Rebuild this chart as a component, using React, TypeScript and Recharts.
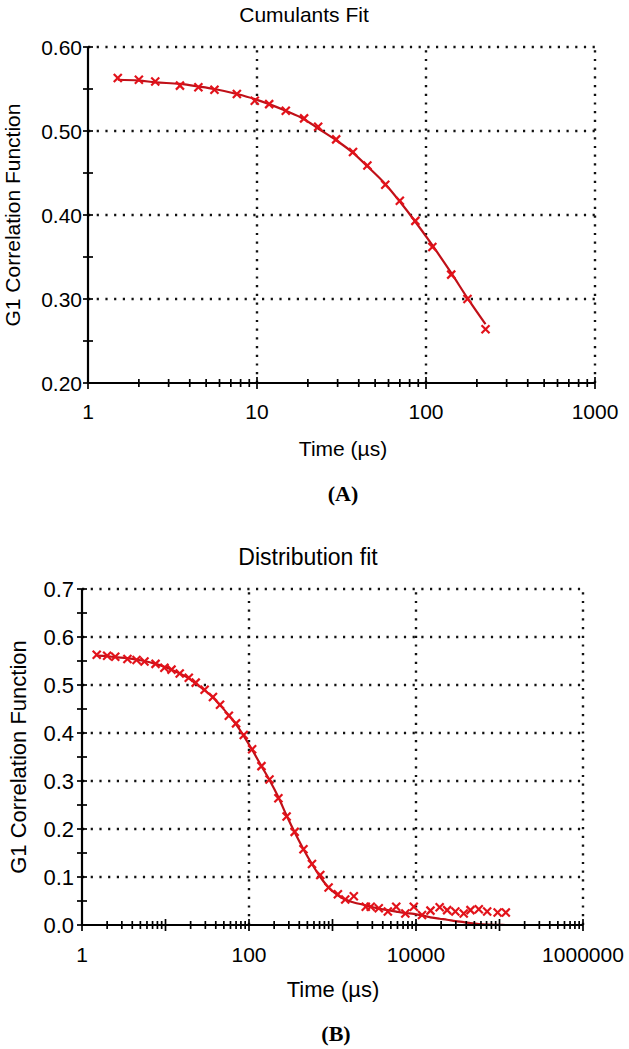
import React from 'react';
import { ComposedChart, Line, Scatter, XAxis, YAxis, ReferenceLine } from 'recharts';

// (A) cumulants fit, time in µs
const timeA = [1.5, 2.0, 2.5, 3.5, 4.5, 5.6, 7.6, 9.7, 11.8, 14.8, 19, 23, 29.4, 37, 45, 57.4, 70, 86.5, 109, 141, 176, 225];
const measuredA = [0.563, 0.561, 0.559, 0.554, 0.552, 0.549, 0.544, 0.536, 0.532, 0.524, 0.515, 0.505, 0.49, 0.475, 0.459, 0.436, 0.417, 0.393, 0.362, 0.329, 0.3, 0.264];
const fitA = [0.561, 0.56, 0.558, 0.556, 0.553, 0.55, 0.544, 0.538, 0.532, 0.524, 0.514, 0.503, 0.489, 0.474, 0.458, 0.437, 0.416, 0.392, 0.364, 0.331, 0.301, 0.27];

// (B) distribution fit
const timeB = [1.5, 2.0, 2.5, 3.5, 4.5, 5.6, 7.6, 9.7, 11.8, 14.8, 19, 23, 29.4, 37, 45, 57.4, 70, 86.5, 109, 141, 176, 225,
  282, 352, 449, 568, 714, 898, 1160, 1420, 1800, 2500, 2870, 3580, 4600, 5800, 7450, 9400, 11800, 14900, 19200, 23600, 29600, 37300, 44900, 56500, 71200, 95000, 119000];
const measuredB = [0.563, 0.561, 0.559, 0.554, 0.552, 0.549, 0.544, 0.536, 0.532, 0.524, 0.515, 0.505, 0.49, 0.475, 0.459, 0.436, 0.42, 0.396, 0.366, 0.331, 0.303, 0.264,
  0.226, 0.194, 0.158, 0.127, 0.104, 0.078, 0.064, 0.053, 0.06, 0.038, 0.038, 0.035, 0.028, 0.038, 0.024, 0.038, 0.021, 0.03, 0.037, 0.031, 0.028, 0.024, 0.031, 0.033, 0.028, 0.026, 0.026];
const fitB = [0.561, 0.56, 0.558, 0.556, 0.553, 0.55, 0.544, 0.538, 0.532, 0.524, 0.514, 0.503, 0.489, 0.474, 0.458, 0.437, 0.418, 0.394, 0.365, 0.331, 0.302, 0.266,
  0.228, 0.193, 0.158, 0.127, 0.1, 0.078, 0.062, 0.053, 0.047, 0.041, 0.038, 0.034, 0.031, 0.028, 0.025, 0.023, 0.02, 0.016, 0.013, 0.011, 0.008, 0.006, 0.004, 0.002, 0.001, 0.0004, 0];

const labelledXA = [1, 10, 100, 1000];
const labelledXB = [1, 100, 10000, 1000000];
const decadeXB = [10, 1000, 100000];
const yTicksA = [0.2, 0.25, 0.3, 0.35, 0.4, 0.45, 0.5, 0.55, 0.6];
const yTicksB = [0, 0.05, 0.1, 0.15, 0.2, 0.25, 0.3, 0.35, 0.4, 0.45, 0.5, 0.55, 0.6, 0.65, 0.7];

const FONT = '"Liberation Sans", Arial, sans-serif';
const LINE_RED = '#c01018';
const MARK_RED = '#e2121a';

// 1,2,...,9,10,20,... up to the last decade
function logTicks(from: number, to: number) {
  const out: number[] = [];
  for (let d = from; d < to; d *= 10) {
    for (let k = 1; k < 10; k++) out.push(d * k);
  }
  out.push(to);
  return out;
}

const Cross = (props: any) => {
  const { cx, cy } = props;
  if (cx == null || cy == null) return null;
  const s = 4;
  return (
    <g stroke={MARK_RED} strokeWidth={2.2}>
      <line x1={cx - s} y1={cy - s} x2={cx + s} y2={cy + s} />
      <line x1={cx - s} y1={cy + s} x2={cx + s} y2={cy - s} />
    </g>
  );
};

function makeXTick(labelled: number[], decades: number[], fontSize: number, offset: number) {
  return (props: any) => {
    const { x, y, payload } = props;
    const v = payload.value;
    const show = labelled.includes(v);
    const len = show || decades.includes(v) ? 6 : 4;
    return (
      <g>
        <line x1={x} x2={x} y1={y - len} y2={y + len} stroke="#000" strokeWidth={1.7} />
        {show && (
          <text x={x} y={y + offset} textAnchor="middle" fontSize={fontSize} fontFamily={FONT} fill="#000">
            {String(v)}
          </text>
        )}
      </g>
    );
  };
}

function makeYTick(digits: number, fontSize: number, gap: number) {
  return (props: any) => {
    const { x, y, payload } = props;
    const v = payload.value;
    const major = Math.abs(v * 10 - Math.round(v * 10)) < 1e-6;
    return (
      <g>
        <line x1={x - 5} x2={x + 5} y1={y} y2={y} stroke="#000" strokeWidth={1.7} />
        {major && (
          <text x={x - gap} y={y + fontSize * 0.36} textAnchor="end" fontSize={fontSize} fontFamily={FONT} fill="#000">
            {v.toFixed(digits)}
          </text>
        )}
      </g>
    );
  };
}

const dotted = { stroke: '#111', strokeWidth: 2.4, strokeDasharray: '2.2 6.5' };

function Panel(props: {
  top: number; height: number; margin: any;
  times: number[]; measured: number[]; fit: number[];
  xDomain: [number, number]; xTicks: number[]; xGrid: number[];
  yDomain: [number, number]; yTicks: number[]; yGrid: number[];
  xTick: any; yTick: any;
}) {
  const rows = props.times.map((t, i) => ({ t, obs: props.measured[i], fit: props.fit[i] }));
  return (
    <div style={{ position: 'absolute', left: 0, top: props.top }}>
      <ComposedChart width={629} height={props.height} data={rows} margin={props.margin}>
        <XAxis dataKey="t" type="number" scale="log" domain={props.xDomain} ticks={props.xTicks} interval={0}
          allowDataOverflow tickSize={0} tickMargin={0} tick={props.xTick} tickLine={false}
          axisLine={{ stroke: '#000', strokeWidth: 2.2 }} height={40} />
        <YAxis type="number" domain={props.yDomain} ticks={props.yTicks} interval={0} allowDataOverflow
          tickSize={0} tickMargin={0} tick={props.yTick} tickLine={false}
          axisLine={{ stroke: '#000', strokeWidth: 2.2 }} width={60} />
        {props.xGrid.map((v) => (
          <ReferenceLine key={'x' + v} x={v} {...dotted} />
        ))}
        {props.yGrid.map((v) => (
          <ReferenceLine key={'y' + v} y={v} {...dotted} />
        ))}
        <Line dataKey="fit" type="monotone" stroke={LINE_RED} strokeWidth={2.2} dot={false} isAnimationActive={false} />
        <Scatter dataKey="obs" shape={Cross} isAnimationActive={false} />
      </ComposedChart>
    </div>
  );
}

const txt = (x: number, y: number, size: number, extra: any = {}): React.CSSProperties => ({
  position: 'absolute', left: x, top: y, transform: 'translate(-50%, -50%)', whiteSpace: 'nowrap',
  fontFamily: FONT, fontSize: size, color: '#000', lineHeight: 1, ...extra,
});

export default function App() {
  return (
    <div style={{ position: 'absolute', left: 0, top: 0, width: 629, height: 1049, background: '#fff', overflow: 'hidden' }}>
      <Panel top={0} height={470} margin={{ top: 47, right: 34, bottom: 47, left: 28 }}
        times={timeA} measured={measuredA} fit={fitA}
        xDomain={[1, 1000]} xTicks={logTicks(1, 1000)} xGrid={[10, 100, 1000]}
        yDomain={[0.2, 0.6]} yTicks={yTicksA} yGrid={[0.3, 0.4, 0.5, 0.6]}
        xTick={makeXTick(labelledXA, [], 21, 36)} yTick={makeYTick(2, 21, 6)} />
      <Panel top={520} height={529} margin={{ top: 69, right: 46, bottom: 84, left: 22 }}
        times={timeB} measured={measuredB} fit={fitB}
        xDomain={[1, 1000000]} xTicks={logTicks(1, 1000000)} xGrid={[100, 10000, 1000000]}
        yDomain={[0, 0.7]} yTicks={yTicksB} yGrid={[0.1, 0.2, 0.3, 0.4, 0.5, 0.6, 0.7]}
        xTick={makeXTick(labelledXB, decadeXB, 21, 37)} yTick={makeYTick(1, 22, 8)} />

      <div style={txt(304, 14, 21)}>Cumulants Fit</div>
      <div style={txt(12, 215, 21, { transform: 'translate(-50%, -50%) rotate(-90deg)' })}>G1 Correlation Function</div>
      <div style={txt(343, 448, 21)}>Time (µs)</div>
      <div style={txt(343, 494, 22, { fontFamily: '"Liberation Serif", "Times New Roman", serif', fontWeight: 'bold' })}>(A)</div>

      <div style={txt(308, 557, 23)}>Distribution fit</div>
      <div style={txt(19, 757, 22, { transform: 'translate(-50%, -50%) rotate(-90deg)' })}>G1 Correlation Function</div>
      <div style={txt(333, 990, 22)}>Time (µs)</div>
      <div style={txt(336, 1034, 22, { fontFamily: '"Liberation Serif", "Times New Roman", serif', fontWeight: 'bold' })}>(B)</div>
    </div>
  );
}
